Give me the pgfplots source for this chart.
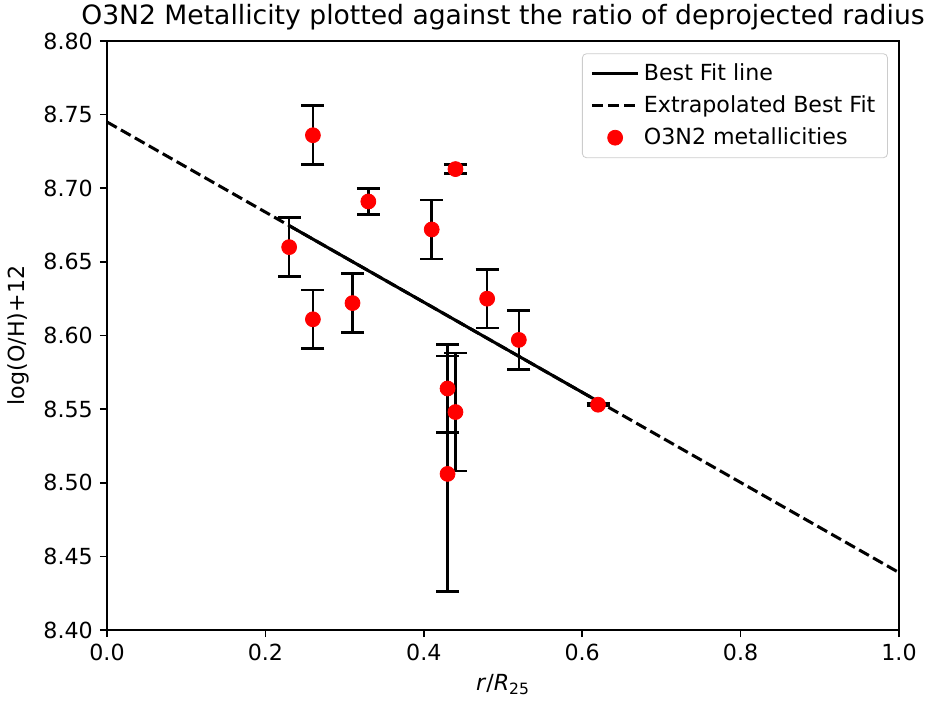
\documentclass[border=0pt]{standalone}
\usepackage{pgfplots}
\pgfplotsset{compat=1.18}
\usepackage{pgfplotstable}
\usepackage{fontspec}
\setmainfont{DejaVu Sans}
\pgfplotstableread{
x y err
0.23 8.660 0.020
0.26 8.736 0.020
0.26 8.611 0.020
0.31 8.622 0.020
0.33 8.691 0.009
0.41 8.672 0.020
0.44 8.713 0.003
0.48 8.625 0.020
0.52 8.597 0.020
0.62 8.553 0.001
0.43 8.564 0.030
0.44 8.548 0.040
0.43 8.506 0.080
}\datatab
\pgfplotstableread{
x y
0 8.745
1 8.439
}\extrap
\pgfplotstableread{
x y
0.23 8.6746
0.62 8.5553
}\fit
\begin{document}
\begin{tikzpicture}
\begin{axis}[
  name=ax,
  scale only axis, width=392.9pt, height=292.2pt,
  xmin=0, xmax=1, ymin=8.4, ymax=8.8,
  xtick={0,0.2,0.4,0.6,0.8,1.0},
  ytick={8.40,8.45,8.50,8.55,8.60,8.65,8.70,8.75,8.80},
  x tick label style={/pgf/number format/.cd, fixed, fixed zerofill, precision=1},
  y tick label style={/pgf/number format/.cd, fixed, fixed zerofill, precision=2},
  /pgf/number format/assume math mode=true,
  tick label style={font=\fontsize{11}{13}\selectfont},
  tick align=outside, major tick length=3.5pt,
  tick style={black, line width=0.8pt},
  xtick pos=bottom, ytick pos=left,
  axis line style={line width=0.8pt},
  title={O3N2 Metallicity plotted against the ratio of deprojected radius},
  title style={font=\fontsize{13.2}{15}\selectfont, inner sep=0pt, yshift=-1pt},
  xlabel={\textit{r}/\textit{R}\textsubscript{25}},
  ylabel={log(O/H)+12},
  label style={font=\fontsize{11}{13}\selectfont},
  legend style={at={(0.986,0.979)}, anchor=north east, draw=black!20, rounded corners=2pt,
    font=\fontsize{11}{13}\selectfont, row sep=2pt, inner xsep=4pt, inner ysep=3pt},
  legend cell align=left,
  legend image code/.code={\draw[#1] (0pt,0pt) -- (23pt,0pt);},
]
\addlegendimage{black, line width=1.5pt}
\addlegendentry{Best Fit line}
\addlegendimage{black, line width=1.5pt, dash pattern=on 5.55pt off 2.4pt}
\addlegendentry{Extrapolated Best Fit}
\addplot[black, line width=1.5pt, dash pattern=on 5.55pt off 2.4pt, forget plot] table[x=x,y=y]{\extrap};
\addplot[black, line width=1.5pt, forget plot] table[x=x,y=y]{\fit};
\addplot[only marks, mark=*, mark size=3.7pt, red, mark options={draw=red, fill=red},
  legend image code/.code={\draw[draw=red, fill=red] (11.5pt,0pt) circle (3.7pt);},
  error bars/.cd, y dir=both, y explicit,
  error bar style={black, line width=1.3pt},
  error mark options={black, line width=1.3pt, mark size=5.7pt, rotate=90},
  ] table[x=x,y=y,y error=err]{\datatab};
\addlegendentry{O3N2 metallicities}
\end{axis}
\pgfresetboundingbox
\path ([shift={(-53.08pt,-36.70pt)}]ax.south west) rectangle ([shift={(14.89pt,20.34pt)}]ax.north east);
\end{tikzpicture}
\end{document}
